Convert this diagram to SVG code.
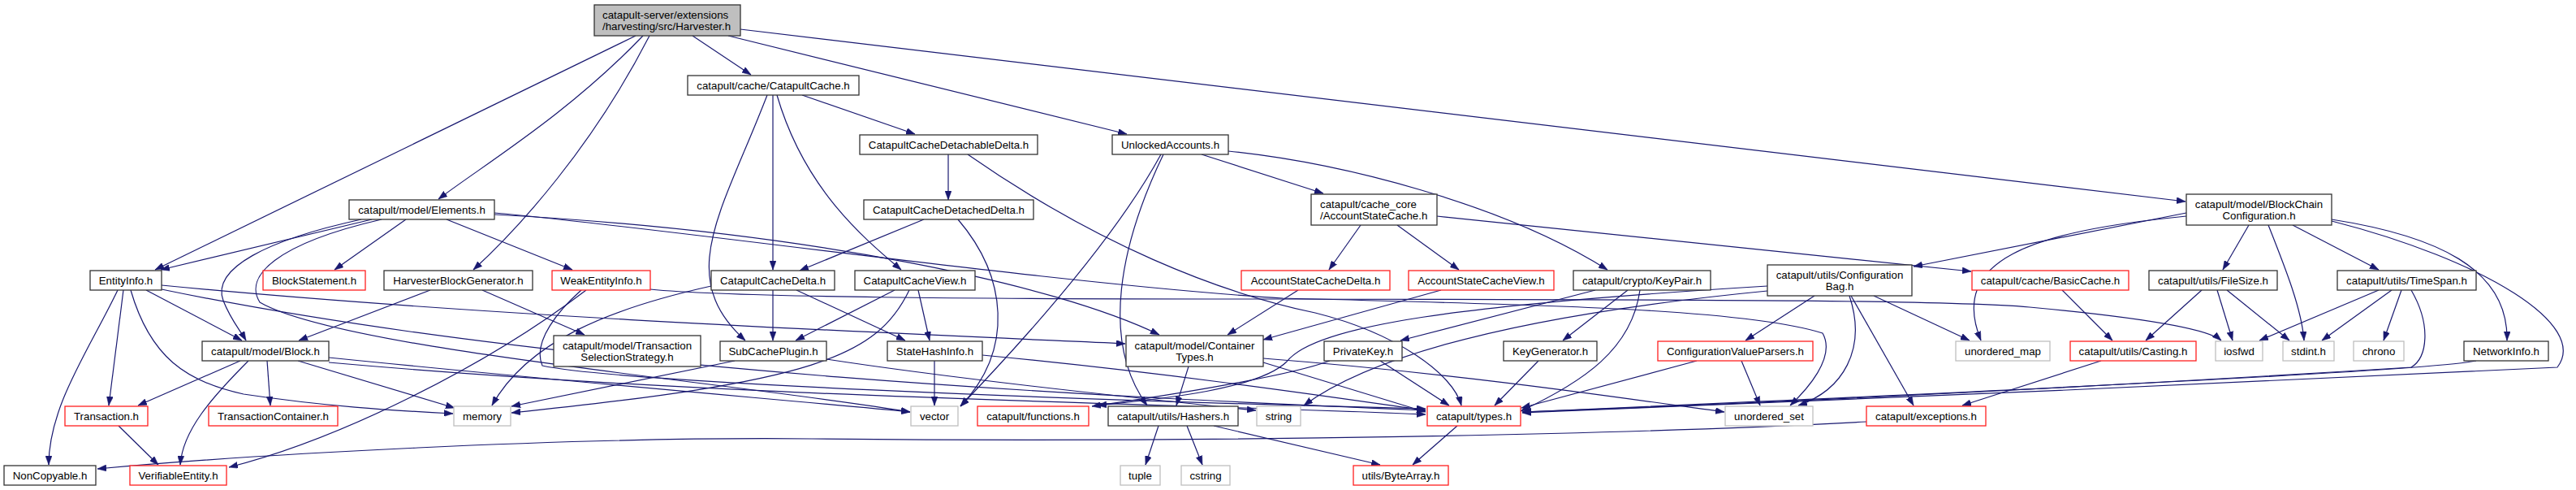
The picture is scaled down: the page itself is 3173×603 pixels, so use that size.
<svg xmlns="http://www.w3.org/2000/svg" width="3173" height="603" viewBox="0 0 3173 603">
<style>
rect{fill:#fff;stroke:#333;stroke-width:1.3}
.red rect{stroke:#ff2020}
.gry rect{stroke:#bfbfbf}
.root rect{fill:#bfbfbf;stroke:#333}
text{font-family:"Liberation Sans",Arial,sans-serif;font-size:13.3px;text-anchor:middle;fill:#000}
text.l{text-anchor:start}
#edges path{fill:none;stroke:#191970;stroke-width:1.2;marker-end:url(#ah)}
</style>
<defs>
<marker id="ah" viewBox="0 0 11 8" refX="11" refY="4" markerWidth="11" markerHeight="8" orient="auto" markerUnits="userSpaceOnUse"><path d="M0,0 L11,4 L0,8 z" fill="#191970" stroke="#191970" stroke-width="0.5"/></marker>
</defs>
<rect x="0" y="0" width="3173" height="603" style="fill:#fff;stroke:none"/>
<g id="edges">
<path d="M783,44 L191,332"/>
<path d="M792,44 C700,140 600,200 540,245"/>
<path d="M800,44 C730,180 640,280 583,332"/>
<path d="M853,44 L925,92"/>
<path d="M897,44 L1388,165"/>
<path d="M912,36 L2692,248"/>
<path d="M458,270 L198,332"/>
<path d="M445,270 C330,295 260,330 275,370 C285,395 295,405 303,419"/>
<path d="M500,270 L412,332"/>
<path d="M550,270 L705,332"/>
<path d="M609,264 C1000,285 1300,350 1428,412"/>
<path d="M470,270 C340,300 300,340 320,372 C420,430 900,470 1121,507"/>
<path d="M609,262 C800,278 1300,350 1580,367 C1900,375 2150,380 2245,410 C2262,440 2225,480 2205,499"/>
<path d="M145,357 C110,430 60,500 60,572"/>
<path d="M152,357 L134,499"/>
<path d="M161,357 C185,440 230,470 300,485 C400,500 480,505 558,509"/>
<path d="M180,357 L298,419"/>
<path d="M199,351 C600,390 1100,410 1386,423"/>
<path d="M199,356 C700,460 1400,490 1756,505"/>
<path d="M296,444 L170,499"/>
<path d="M329,444 L333,499"/>
<path d="M306,444 C260,490 225,530 222,572"/>
<path d="M367,444 L560,502"/>
<path d="M405,440 C700,470 1000,495 1121,507"/>
<path d="M405,446 C900,490 1400,495 1756,510"/>
<path d="M146,524 L195,572"/>
<path d="M530,357 L368,419"/>
<path d="M594,357 L720,412"/>
<path d="M722,357 C600,450 420,540 282,575"/>
<path d="M716,357 C690,380 655,420 668,450 C760,470 1300,492 1756,503"/>
<path d="M801,356 C900,366 1200,368 1580,368 C2000,369 2380,368 2500,378 C2650,392 2720,405 2736,419"/>
<path d="M945,117 C890,260 830,340 918,419"/>
<path d="M952,117 L952,332"/>
<path d="M957,117 C990,230 1060,290 1110,332"/>
<path d="M988,117 L1127,165"/>
<path d="M1168,190 L1168,246"/>
<path d="M1192,190 C1350,300 1500,360 1620,385 C1720,410 1790,460 1800,499"/>
<path d="M1138,270 L985,333"/>
<path d="M1180,270 C1240,340 1250,430 1183,500"/>
<path d="M952,357 L952,419"/>
<path d="M981,357 L1115,419"/>
<path d="M876,352 C750,380 650,420 606,499"/>
<path d="M1102,357 L980,419"/>
<path d="M1131,357 L1145,419"/>
<path d="M1120,357 C1080,440 1000,470 630,508"/>
<path d="M905,444 L630,500"/>
<path d="M1018,442 C1200,470 1450,495 1547,505"/>
<path d="M1151,444 L1151,499"/>
<path d="M1210,437 C1450,460 1650,490 1756,505"/>
<path d="M1480,190 L1630,238"/>
<path d="M1513,186 C1650,200 1850,250 1980,332"/>
<path d="M1430,190 C1370,300 1250,430 1183,500"/>
<path d="M1433,190 C1380,300 1355,420 1413,499"/>
<path d="M1676,277 L1637,332"/>
<path d="M1721,277 L1797,332"/>
<path d="M1770,266 L2428,334"/>
<path d="M1599,357 L1512,412"/>
<path d="M1775,357 L1556,418"/>
<path d="M1965,357 L1725,419"/>
<path d="M2005,357 L1925,419"/>
<path d="M2020,357 C2010,430 1950,470 1873,506"/>
<path d="M1638,444 C1590,462 1450,485 1345,500"/>
<path d="M1700,444 L1785,499"/>
<path d="M1895,444 L1841,499"/>
<path d="M1464,451 L1449,499"/>
<path d="M1556,446 L1756,507"/>
<path d="M1556,441 C1800,460 2000,490 2124,507"/>
<path d="M2235,364 L2150,419"/>
<path d="M2278,364 C2300,430 2270,480 2215,499"/>
<path d="M2280,364 L2357,499"/>
<path d="M2308,364 L2426,419"/>
<path d="M2177,358 C1900,385 1700,430 1606,499"/>
<path d="M2177,352 C1800,375 1620,400 1585,445 C1550,480 1420,492 1352,499"/>
<path d="M2090,444 L1874,502"/>
<path d="M2145,444 L2168,499"/>
<path d="M2693,262 L2357,328"/>
<path d="M2693,266 C2500,285 2400,320 2440,419"/>
<path d="M2770,277 L2738,332"/>
<path d="M2794,277 C2815,330 2835,380 2838,419"/>
<path d="M2824,277 L2930,332"/>
<path d="M2872,270 C3000,290 3090,330 3088,419"/>
<path d="M2872,272 C3060,320 3190,400 3150,452 C2800,470 2200,495 1875,508"/>
<path d="M2540,357 L2602,419"/>
<path d="M2712,357 L2643,419"/>
<path d="M2731,357 L2750,419"/>
<path d="M2743,357 L2820,419"/>
<path d="M2930,357 L2783,419"/>
<path d="M2946,357 L2860,419"/>
<path d="M2958,357 L2936,419"/>
<path d="M2970,357 C2995,400 2990,440 2970,452 C2600,475 2200,495 1875,507"/>
<path d="M3050,444 C3000,455 2500,480 1875,507"/>
<path d="M2588,444 L2417,499"/>
<path d="M2299,519 C2000,535 1500,545 1000,540 C700,537 300,560 120,577"/>
<path d="M1795,524 L1740,572"/>
<path d="M1427,524 L1411,572"/>
<path d="M1462,524 L1481,572"/>
<path d="M1495,524 L1700,572"/>
</g>
<g id="n_root" class="root"><rect x="732" y="6" width="180" height="38"/><text class="l" x="742" y="23">catapult-server/extensions</text><text class="l" x="742" y="37">/harvesting/src/Harvester.h</text></g>
<g id="n_cc"><rect x="847" y="93" width="211" height="24"/><text x="952.5" y="109.5">catapult/cache/CatapultCache.h</text></g>
<g id="n_ccdd"><rect x="1059" y="166" width="219" height="24"/><text x="1168.5" y="182.5">CatapultCacheDetachableDelta.h</text></g>
<g id="n_ua"><rect x="1370" y="166" width="143" height="24"/><text x="1441.5" y="182.5">UnlockedAccounts.h</text></g>
<g id="n_el"><rect x="430" y="246" width="179" height="24"/><text x="519.5" y="262.5">catapult/model/Elements.h</text></g>
<g id="n_ccdt"><rect x="1064" y="246" width="209" height="24"/><text x="1168.5" y="262.5">CatapultCacheDetachedDelta.h</text></g>
<g id="n_asc"><rect x="1615" y="239" width="155" height="38"/><text class="l" x="1626" y="256">catapult/cache_core</text><text class="l" x="1626" y="270">/AccountStateCache.h</text></g>
<g id="n_bcc"><rect x="2693" y="239" width="179" height="38"/><text x="2782.5" y="256">catapult/model/BlockChain</text><text x="2782.5" y="270">Configuration.h</text></g>
<g id="n_ei"><rect x="111" y="333" width="88" height="24"/><text x="155" y="349.5">EntityInfo.h</text></g>
<g id="n_bs" class="red"><rect x="324" y="333" width="126" height="24"/><text x="387" y="349.5">BlockStatement.h</text></g>
<g id="n_hbg"><rect x="473" y="333" width="183" height="24"/><text x="564.5" y="349.5">HarvesterBlockGenerator.h</text></g>
<g id="n_wei" class="red"><rect x="680" y="333" width="121" height="24"/><text x="740.5" y="349.5">WeakEntityInfo.h</text></g>
<g id="n_ccde"><rect x="876" y="333" width="152" height="24"/><text x="952" y="349.5">CatapultCacheDelta.h</text></g>
<g id="n_ccv"><rect x="1053" y="333" width="148" height="24"/><text x="1127" y="349.5">CatapultCacheView.h</text></g>
<g id="n_ascd" class="red"><rect x="1529" y="333" width="183" height="24"/><text x="1620.5" y="349.5">AccountStateCacheDelta.h</text></g>
<g id="n_ascv" class="red"><rect x="1735" y="333" width="179" height="24"/><text x="1824.5" y="349.5">AccountStateCacheView.h</text></g>
<g id="n_kp"><rect x="1938" y="333" width="169" height="24"/><text x="2022.5" y="349.5">catapult/crypto/KeyPair.h</text></g>
<g id="n_cb"><rect x="2177" y="326" width="178" height="38"/><text x="2266" y="343">catapult/utils/Configuration</text><text x="2266" y="357">Bag.h</text></g>
<g id="n_bc" class="red"><rect x="2429" y="333" width="193" height="24"/><text x="2525.5" y="349.5">catapult/cache/BasicCache.h</text></g>
<g id="n_fs"><rect x="2647" y="333" width="158" height="24"/><text x="2726" y="349.5">catapult/utils/FileSize.h</text></g>
<g id="n_ts"><rect x="2879" y="333" width="171" height="24"/><text x="2964.5" y="349.5">catapult/utils/TimeSpan.h</text></g>
<g id="n_blk"><rect x="249" y="420" width="156" height="24"/><text x="327" y="436.5">catapult/model/Block.h</text></g>
<g id="n_tss"><rect x="682" y="413" width="181" height="38"/><text x="772.5" y="430">catapult/model/Transaction</text><text x="772.5" y="444">SelectionStrategy.h</text></g>
<g id="n_scp"><rect x="887" y="420" width="131" height="24"/><text x="952.5" y="436.5">SubCachePlugin.h</text></g>
<g id="n_shi"><rect x="1093" y="420" width="117" height="24"/><text x="1151.5" y="436.5">StateHashInfo.h</text></g>
<g id="n_ct"><rect x="1387" y="413" width="169" height="38"/><text x="1471.5" y="430">catapult/model/Container</text><text x="1471.5" y="444">Types.h</text></g>
<g id="n_pk"><rect x="1631" y="420" width="96" height="24"/><text x="1679" y="436.5">PrivateKey.h</text></g>
<g id="n_kg"><rect x="1852" y="420" width="115" height="24"/><text x="1909.5" y="436.5">KeyGenerator.h</text></g>
<g id="n_cvp" class="red"><rect x="2042" y="420" width="191" height="24"/><text x="2137.5" y="436.5">ConfigurationValueParsers.h</text></g>
<g id="n_um" class="gry"><rect x="2409" y="420" width="116" height="24"/><text x="2467" y="436.5">unordered_map</text></g>
<g id="n_cast" class="red"><rect x="2550" y="420" width="155" height="24"/><text x="2627.5" y="436.5">catapult/utils/Casting.h</text></g>
<g id="n_iosfwd" class="gry"><rect x="2729" y="420" width="58" height="24"/><text x="2758" y="436.5">iosfwd</text></g>
<g id="n_stdint" class="gry"><rect x="2812" y="420" width="63" height="24"/><text x="2843.5" y="436.5">stdint.h</text></g>
<g id="n_chrono" class="gry"><rect x="2899" y="420" width="62" height="24"/><text x="2930" y="436.5">chrono</text></g>
<g id="n_ni"><rect x="3035" y="420" width="104" height="24"/><text x="3087" y="436.5">NetworkInfo.h</text></g>
<g id="n_tx" class="red"><rect x="80" y="500" width="102" height="24"/><text x="131" y="516.5">Transaction.h</text></g>
<g id="n_txc" class="red"><rect x="257" y="500" width="159" height="24"/><text x="336.5" y="516.5">TransactionContainer.h</text></g>
<g id="n_mem" class="gry"><rect x="559" y="500" width="70" height="24"/><text x="594" y="516.5">memory</text></g>
<g id="n_vec" class="gry"><rect x="1122" y="500" width="58" height="24"/><text x="1151" y="516.5">vector</text></g>
<g id="n_fn" class="red"><rect x="1204" y="500" width="137" height="24"/><text x="1272.5" y="516.5">catapult/functions.h</text></g>
<g id="n_hs"><rect x="1365" y="500" width="160" height="24"/><text x="1445" y="516.5">catapult/utils/Hashers.h</text></g>
<g id="n_str" class="gry"><rect x="1548" y="500" width="54" height="24"/><text x="1575" y="516.5">string</text></g>
<g id="n_types" class="red"><rect x="1758" y="500" width="115" height="24"/><text x="1815.5" y="516.5">catapult/types.h</text></g>
<g id="n_us" class="gry"><rect x="2125" y="500" width="108" height="24"/><text x="2179" y="516.5">unordered_set</text></g>
<g id="n_exc" class="red"><rect x="2299" y="500" width="147" height="24"/><text x="2372.5" y="516.5">catapult/exceptions.h</text></g>
<g id="n_nc"><rect x="5" y="573" width="113" height="24"/><text x="61.5" y="589.5">NonCopyable.h</text></g>
<g id="n_ve" class="red"><rect x="160" y="573" width="119" height="24"/><text x="219.5" y="589.5">VerifiableEntity.h</text></g>
<g id="n_tuple" class="gry"><rect x="1380" y="573" width="49" height="24"/><text x="1404.5" y="589.5">tuple</text></g>
<g id="n_cstring" class="gry"><rect x="1455" y="573" width="60" height="24"/><text x="1485" y="589.5">cstring</text></g>
<g id="n_ba" class="red"><rect x="1667" y="573" width="117" height="24"/><text x="1725.5" y="589.5">utils/ByteArray.h</text></g>
</svg>
